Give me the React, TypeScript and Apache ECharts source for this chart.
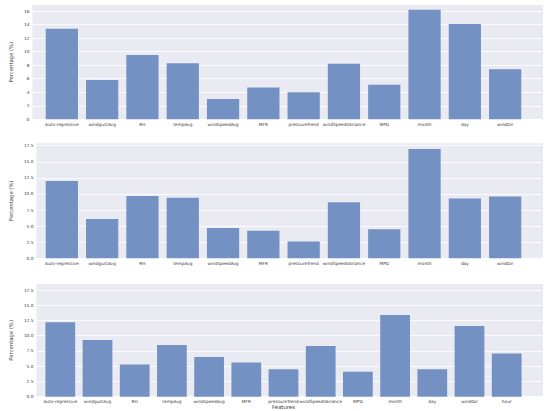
import React, { useEffect, useRef } from "react";
import * as echarts from "echarts";

const categories12 = [
  "Auto-regressive", "windgustAvg", "RH", "tempAvg", "windspeedAvg", "MFR",
  "pressureTrend", "windSpeedVariance", "MPD", "month", "day", "windDir",
];
const categories13 = [...categories12, "hour"];

const values1 = [13.4, 5.8, 9.5, 8.3, 3.0, 4.7, 4.0, 8.2, 5.1, 16.2, 14.1, 7.4];
const values2 = [12.0, 6.1, 9.7, 9.4, 4.7, 4.3, 2.6, 8.7, 4.5, 17.0, 9.3, 9.6];
const values3 = [12.2, 9.3, 5.3, 8.5, 6.5, 5.6, 4.5, 8.3, 4.1, 13.4, 4.5, 11.6, 7.1];

const yMax = [16.9, 17.87, 18.49];
const yStep = [2, 2.5, 2.5];
const yDecimals = [0, 1, 1];

const BAR = "#7491c3";
const BG = "#eaeaf2";
const TXT = "#3a3a3a";

export default function App() {
  const ref = useRef<HTMLDivElement>(null);
  useEffect(() => {
    const chart = echarts.init(ref.current!, null, { renderer: "svg" });
    const panels = [
      { top: 5, bottom: 119.3, cats: categories12, vals: values1, nameGap: 9 },
      { top: 143.3, bottom: 258.3, cats: categories12, vals: values2, nameGap: 13 },
      { top: 284, bottom: 396.7, cats: categories13, vals: values3, nameGap: 13 },
    ];
    const grid: any[] = [];
    const xAxis: any[] = [];
    const yAxis: any[] = [];
    const series: any[] = [];
    panels.forEach((p, i) => {
      const h = p.bottom - p.top;
      grid.push({
        left: 22.7, width: 543 - 22.7, top: p.top, height: h,
        show: true, backgroundColor: BG, borderWidth: 0,
      });
      grid.push({ left: 41.7, width: 525.3 - 41.7, top: p.top, height: h });
      xAxis.push({ type: "value", gridIndex: 2 * i, show: false, min: 0, max: 1 });
      xAxis.push({
        type: "category", gridIndex: 2 * i + 1, data: p.cats,
        axisLine: { show: false }, axisTick: { show: false },
        axisLabel: { interval: 0, fontSize: 4.3, color: TXT, margin: 3, fontFamily: "DejaVu Sans" },
        name: i === 2 ? "Features" : "", nameLocation: "middle", nameGap: 8,
        nameTextStyle: { fontSize: 5.3, color: TXT, fontFamily: "DejaVu Sans" },
      });
      const step = yStep[i];
      const dec = yDecimals[i];
      yAxis.push({
        type: "value", gridIndex: 2 * i, min: 0, max: yMax[i], interval: step,
        axisLine: { show: false }, axisTick: { show: false },
        axisLabel: {
          fontSize: 4.3, color: TXT, margin: 3, fontFamily: "DejaVu Sans",
          showMaxLabel: false,
          formatter: (v: number) => {
            const r = v / step;
            if (Math.abs(r - Math.round(r)) > 1e-6) return "";
            return v.toFixed(dec);
          },
        },
        splitLine: { show: true, showMaxLine: false, lineStyle: { color: "#ffffff", width: 0.8 } },
        name: "Percentage (%)", nameLocation: "middle", nameGap: p.nameGap,
        nameTextStyle: { fontSize: 5.3, color: TXT, fontFamily: "DejaVu Sans" },
      });
      yAxis.push({ type: "value", gridIndex: 2 * i + 1, min: 0, max: yMax[i], show: false });
      series.push({
        type: "bar", xAxisIndex: 2 * i + 1, yAxisIndex: 2 * i + 1,
        data: p.vals, barWidth: "80%",
        itemStyle: { color: BAR },
      });
    });
    chart.setOption({ animation: false, grid, xAxis, yAxis, series });
    return () => chart.dispose();
  }, []);
  return (
    <div
      ref={ref}
      style={{ position: "fixed", left: 0, top: 0, width: 550, height: 411, background: "#fff" }}
    />
  );
}
